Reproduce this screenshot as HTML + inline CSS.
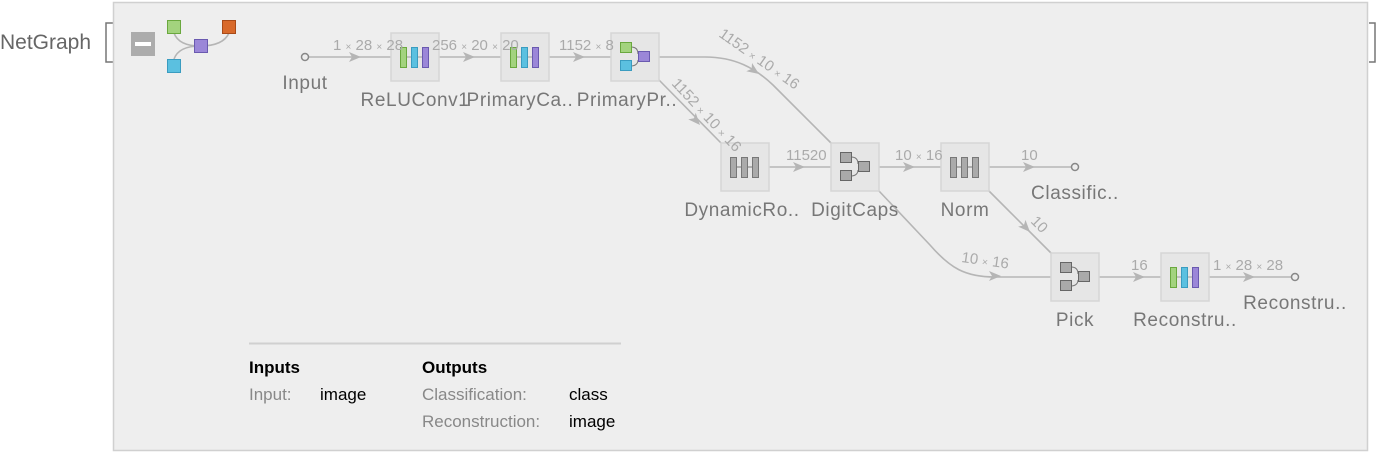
<!DOCTYPE html>
<html><head><meta charset="utf-8"><style>
html,body{margin:0;padding:0;background:#fff;}
svg{display:block;font-family:"Liberation Sans","DejaVu Sans",sans-serif;}
.lab{fill:#777;font-size:19px;letter-spacing:0.6px;text-anchor:middle;}
.el{fill:#aaa;font-size:15px;}
.x{font-size:10px;}
.e{stroke:#b5b5b5;stroke-width:1.6;fill:none;}
.n{fill:#e6e6e6;stroke:#d6d6d6;stroke-width:1.5;}
.ah{fill:#b5b5b5;}
</style></head><body>
<svg width="1378" height="454" viewBox="0 0 1378 454">
<rect width="1378" height="454" fill="#fff"/>
<text x="0" y="49" font-size="21" fill="#666">NetGraph</text>
<path d="M113,23 H106 V62 H113" stroke="#777" stroke-width="1.5" fill="none"/>
<path d="M1369,23 H1375 V62 H1369" stroke="#777" stroke-width="1.5" fill="none"/>
<rect x="113.5" y="2.5" width="1254" height="448" fill="#eeeeee" stroke="#d0d0d0" stroke-width="1.5"/>
<rect x="131" y="32" width="24" height="24" fill="#acacac"/>
<rect x="135" y="42" width="16" height="4" fill="#fff"/>
<path d="M174,33 C178,44 190,46 200,46 M174,59 C178,48 190,46 200,46 M229,33 C225,42 215,46 200,46" class="e"/>
<rect x="167.5" y="20.5" width="13" height="13" fill="#a3d37e" stroke="#6aa83e"/>
<rect x="222.5" y="20.5" width="13" height="13" fill="#d8692a" stroke="#a84a18"/>
<rect x="194.5" y="39.5" width="13" height="13" fill="#9b87d8" stroke="#6a5ab0"/>
<rect x="167.5" y="59.5" width="13" height="13" fill="#5bc0e0" stroke="#3a9cc0"/>
<path class="e" d="M309,57 H391 M439,57 H501 M549,57 H611"/>
<path class="e" d="M659,57 H705 C735,57 755,68 773,85 L831,143"/>
<path class="e" d="M659,80 L721,143"/>
<path class="e" d="M769,167 H831 M879,167 H941 M989,167 H1071"/>
<path class="e" d="M989,191 L1051,253"/>
<path class="e" d="M879,191 L930,245 C950,268 965,277 995,277 H1051"/>
<path class="e" d="M1099,277 H1161 M1209,277 H1291"/>
<g class="ah">
<polygon points="361,57 349,52 352,57 349,62"/>
<polygon points="475,57 463,52 466,57 463,62"/>
<polygon points="585,57 573,52 576,57 573,62"/>
<polygon points="805,167 793,162 796,167 793,172"/>
<polygon points="915,167 903,162 906,167 903,172"/>
<polygon points="1035,167 1023,162 1026,167 1023,172"/>
<polygon points="1145,277 1133,272 1136,277 1133,282"/>
<polygon points="1255,277 1243,272 1246,277 1243,282"/>
<polygon points="1001,276 989,271 992,276 989,281"/>
<g transform="translate(700,125) rotate(48)"><polygon points="0,0 -12,-5 -9,0 -12,5"/></g>
<g transform="translate(759,74) rotate(35)"><polygon points="0,0 -12,-5 -9,0 -12,5"/></g>
<g transform="translate(1030,232) rotate(47)"><polygon points="0,0 -12,-5 -9,0 -12,5"/></g>
</g>
<circle cx="305" cy="57" r="3.5" fill="#eee" stroke="#888" stroke-width="1.5"/>
<circle cx="1075" cy="167" r="3.5" fill="#eee" stroke="#888" stroke-width="1.5"/>
<circle cx="1295" cy="277" r="3.5" fill="#eee" stroke="#888" stroke-width="1.5"/>
<rect class="n" x="391" y="33" width="48" height="48"/>
<rect class="n" x="501" y="33" width="48" height="48"/>
<rect class="n" x="611" y="33" width="48" height="48"/>
<rect class="n" x="721" y="143" width="48" height="48"/>
<rect class="n" x="831" y="143" width="48" height="48"/>
<rect class="n" x="941" y="143" width="48" height="48"/>
<rect class="n" x="1051" y="253" width="48" height="48"/>
<rect class="n" x="1161" y="253" width="48" height="48"/>
<g id="c1">
<line x1="402" y1="57" x2="428" y2="57" stroke="#999"/>
<rect x="400.5" y="47.5" width="6" height="20" fill="#a3d37e" stroke="#6aa83e"/>
<rect x="411.5" y="47.5" width="6" height="20" fill="#5bc0e0" stroke="#3a9cc0"/>
<rect x="422.5" y="47.5" width="6" height="20" fill="#9b87d8" stroke="#6a5ab0"/>
</g>
<use href="#c1" x="110"/>
<use href="#c1" x="770" y="220"/>
<g id="k1">
<line x1="732" y1="167" x2="758" y2="167" stroke="#777"/>
<rect x="730.5" y="157.5" width="6" height="20" fill="#aaa" stroke="#777"/>
<rect x="741.5" y="157.5" width="6" height="20" fill="#aaa" stroke="#777"/>
<rect x="752.5" y="157.5" width="6" height="20" fill="#aaa" stroke="#777"/>
</g>
<use href="#k1" x="220"/>
<path d="M631,47 C636,47 638,50 638,54 M631,66 C636,66 638,63 638,60" stroke="#777" fill="none"/>
<rect x="620.5" y="42.5" width="11" height="10" fill="#a3d37e" stroke="#6aa83e"/>
<rect x="620.5" y="60.5" width="11" height="10" fill="#5bc0e0" stroke="#3a9cc0"/>
<rect x="638.5" y="51.5" width="11" height="10" fill="#9b87d8" stroke="#6a5ab0"/>
<g id="g2">
<path d="M851,157 C856,157 858,160 858,164 M851,176 C856,176 858,173 858,170" stroke="#777" fill="none"/>
<rect x="840.5" y="152.5" width="11" height="10" fill="#aaa" stroke="#666"/>
<rect x="840.5" y="170.5" width="11" height="10" fill="#aaa" stroke="#666"/>
<rect x="858.5" y="161.5" width="11" height="10" fill="#aaa" stroke="#666"/>
</g>
<use href="#g2" x="220" y="110"/>
<text class="el" x="333" y="50">1 <tspan class="x">×</tspan> 28 <tspan class="x">×</tspan> 28</text>
<text class="el" x="432" y="50">256 <tspan class="x">×</tspan> 20 <tspan class="x">×</tspan> 20</text>
<text class="el" x="559" y="50">1152 <tspan class="x">×</tspan> 8</text>
<text class="el" transform="translate(718,36) rotate(35)">1152 <tspan class="x">×</tspan> 10 <tspan class="x">×</tspan> 16</text>
<text class="el" transform="translate(671,84) rotate(47)">1152 <tspan class="x">×</tspan> 10 <tspan class="x">×</tspan> 16</text>
<text class="el" x="786" y="160">11520</text>
<text class="el" x="895" y="160">10 <tspan class="x">×</tspan> 16</text>
<text class="el" x="1021" y="160">10</text>
<text class="el" transform="translate(1030,222) rotate(45)">10</text>
<text class="el" transform="translate(961,262) rotate(8)">10 <tspan class="x">×</tspan> 16</text>
<text class="el" x="1131" y="270">16</text>
<text class="el" x="1213" y="270">1 <tspan class="x">×</tspan> 28 <tspan class="x">×</tspan> 28</text>
<text class="lab" x="305" y="89">Input</text>
<text class="lab" x="415" y="106">ReLUConv1</text>
<text class="lab" x="520" y="106">PrimaryCa..</text>
<text class="lab" x="627" y="106">PrimaryPr..</text>
<text class="lab" x="742" y="216">DynamicRo..</text>
<text class="lab" x="855" y="216">DigitCaps</text>
<text class="lab" x="965" y="216">Norm</text>
<text class="lab" x="1075" y="199">Classific..</text>
<text class="lab" x="1075" y="326">Pick</text>
<text class="lab" x="1185" y="326">Reconstru..</text>
<text class="lab" x="1295" y="309">Reconstru..</text>
<line x1="249" y1="343.5" x2="621" y2="343.5" stroke="#d0d0d0" stroke-width="2"/>
<g font-size="17">
<text x="249" y="373" font-weight="bold" fill="#000">Inputs</text>
<text x="249" y="400" fill="#888">Input:</text>
<text x="320" y="400" fill="#000">image</text>
<text x="422" y="373" font-weight="bold" fill="#000">Outputs</text>
<text x="422" y="400" fill="#888">Classification:</text>
<text x="569" y="400" fill="#000">class</text>
<text x="422" y="427" fill="#888">Reconstruction:</text>
<text x="569" y="427" fill="#000">image</text>
</g>
</svg>
</body></html>
